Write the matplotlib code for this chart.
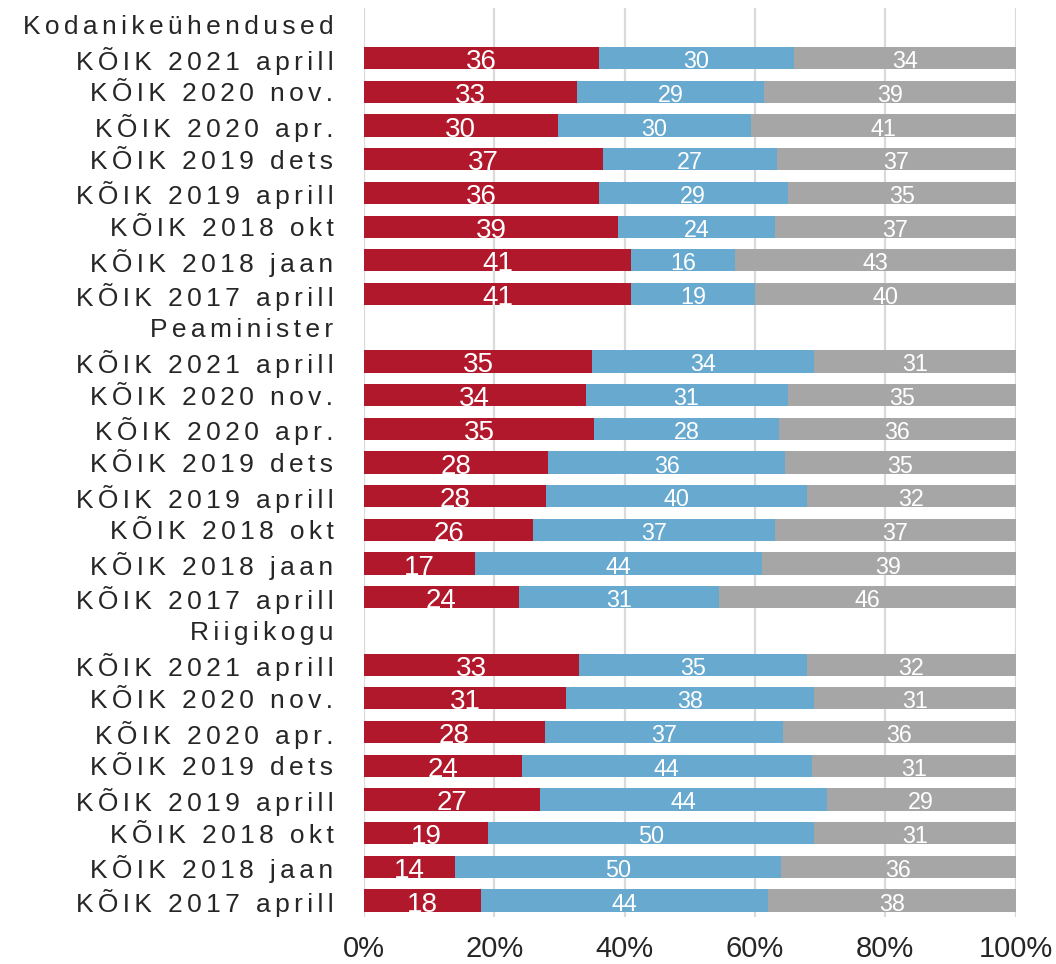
import matplotlib
matplotlib.use('Agg')
import matplotlib.pyplot as plt
import numpy as np

# -------------------------------------------------------------
# data
# -------------------------------------------------------------
groups = ['Kodanikeühendused', 'Peaminister', 'Riigikogu']
waves = ['KÕIK 2021 aprill', 'KÕIK 2020 nov.', 'KÕIK 2020 apr.', 'KÕIK 2019 dets',
         'KÕIK 2019 aprill', 'KÕIK 2018 okt', 'KÕIK 2018 jaan', 'KÕIK 2017 aprill']

kodanik_red = [36, 33, 30, 37, 36, 39, 41, 41]
kodanik_blue = [30, 29, 30, 27, 29, 24, 16, 19]
kodanik_gray = [34, 39, 41, 37, 35, 37, 43, 40]

peamin_red = [35, 34, 35, 28, 28, 26, 17, 24]
peamin_blue = [34, 31, 28, 36, 40, 37, 44, 31]
peamin_gray = [31, 35, 36, 35, 32, 37, 39, 46]

riigik_red = [33, 31, 28, 24, 27, 19, 14, 18]
riigik_blue = [35, 38, 37, 44, 44, 50, 50, 44]
riigik_gray = [32, 31, 36, 31, 29, 31, 36, 38]

xticks = [0, 20, 40, 60, 80, 100]
xtick_labels = ['0%', '20%', '40%', '60%', '80%', '100%']

RED = '#B2182B'
BLUE = '#67A9CF'
GRAY = '#A6A6A6'
TXT = '#262626'

plt.rcParams['font.family'] = ['Liberation Sans', 'DejaVu Sans']


def spaced(s):
    # wide letter spacing like the original
    return '\u2006'.join(s)


# header row followed by its survey waves
labels = []
rows = []
for g, r, b, k in [(groups[0], kodanik_red, kodanik_blue, kodanik_gray),
                   (groups[1], peamin_red, peamin_blue, peamin_gray),
                   (groups[2], riigik_red, riigik_blue, riigik_gray)]:
    labels.append(g)
    rows.append(None)
    for i, w in enumerate(waves):
        labels.append(w)
        rows.append((r[i], b[i], k[i]))

fig = plt.figure(figsize=(10.56, 9.64), dpi=100)
ax = fig.add_axes([0.3447, 0.0491, 0.9618 - 0.3447, 0.9917 - 0.0491])

for y, vals in enumerate(rows):
    if vals is None:
        continue
    tot = float(sum(vals))
    left = 0.0
    for j, (v, c) in enumerate(zip(vals, [RED, BLUE, GRAY])):
        w = v / tot * 100
        ax.barh(y, w, left=left, height=0.66, color=c, linewidth=0)
        ax.text(left + w / 2, y + 0.03, str(v), ha='center', va='center_baseline',
                color='white', fontsize=20 if j == 0 else 16.8)
        left += w

ax.set_xlim(0, 100)
ax.set_ylim(len(rows) - 0.52, -0.49)
ax.set_yticks(range(len(rows)))
ax.set_yticklabels([spaced(l) for l in labels], fontsize=19, color=TXT)
ax.set_xticks(xticks)
ax.set_xticklabels(xtick_labels, fontsize=21, color=TXT)
ax.tick_params(axis='y', length=0, pad=22)
ax.tick_params(axis='x', length=0, pad=13)
for s in ax.spines.values():
    s.set_visible(False)
ax.grid(axis='x', color='#DADADA', linewidth=1.6)
ax.set_axisbelow(True)

plt.savefig('out.png', dpi=100)
plt.close()
